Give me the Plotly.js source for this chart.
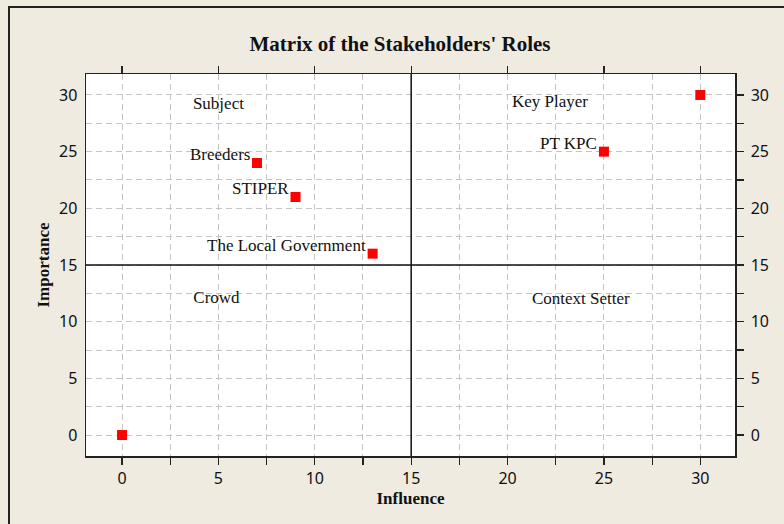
<!DOCTYPE html>
<html>
<head>
<meta charset="utf-8">
<script src="https://cdn.plot.ly/plotly-3.0.1.min.js"></script>
<style>
  html, body { margin: 0; padding: 0; background: #efebe1; }
  #wrap { position: relative; width: 784px; height: 524px; overflow: hidden; }
  #chart { position: absolute; left: 0; top: 0; width: 784px; height: 524px; }
  #frame { position: absolute; left: 8px; top: 6px; width: 800px; height: 540px;
           border-left: 2px solid #222; border-top: 2px solid #222; pointer-events: none; }
</style>
</head>
<body>
<div id="wrap"><div id="chart"></div><div id="frame"></div></div>
<script>
// Stakeholders (influence, importance)
const stakeholderNames = ["", "Breeders", "STIPER", "The Local Government", "PT KPC", ""];
const influence = [0, 7, 9, 13, 25, 30];
const importance = [0, 24, 21, 16, 25, 30];

// Quadrant labels
const quadrantNames = ["Subject", "Key Player", "Crowd", "Context Setter"];
const quadrantX = [5, 22.2, 4.9, 23.8];
const quadrantY = [29.1, 29.3, 12.0, 11.9];

// Quadrant dividers
const dividerX = 15;
const dividerY = 15;

const tickVals = [0, 5, 10, 15, 20, 25, 30];
const xRange = [-1.87, 31.8];
const yRange = [-1.85, 31.85];

const gridColor = "#c4c4c4";
const serif = "Liberation Serif, Times New Roman, serif";
const sans = "Noto Sans, DejaVu Sans, sans-serif";

const traces = [
  {
    type: "scatter", mode: "markers",
    x: influence, y: importance, text: stakeholderNames,
    marker: { symbol: "square", size: 10, color: "#ff0000" },
    hoverinfo: "x+y+text", cliponaxis: false
  },
  {
    type: "scatter", mode: "text",
    x: quadrantX, y: quadrantY, text: quadrantNames,
    textposition: "middle center",
    textfont: { family: serif, size: 17, color: "#111" },
    hoverinfo: "text"
  },
  { type: "scatter", mode: "markers", x: [null], y: [null], xaxis: "x2", yaxis: "y2", showlegend: false, hoverinfo: "skip" }
];

const pointLabels = stakeholderNames
  .map((name, i) => ({ name, x: influence[i], y: importance[i] }))
  .filter(p => p.name)
  .map(p => ({
    x: p.x, y: p.y, xref: "x", yref: "y", text: p.name, showarrow: false,
    xanchor: "right", yanchor: "middle", xshift: -5, yshift: 8,
    font: { family: serif, size: 17, color: "#111" }
  }));

const baseAxis = {
  range: null, tickvals: tickVals, ticktext: tickVals.map(String),
  showline: true, linecolor: "#222", linewidth: 1.5,
  zeroline: false,
  tickfont: { family: sans, size: 16, color: "#111" }
};

const layout = {
  width: 784, height: 524,
  paper_bgcolor: "#efebe1", plot_bgcolor: "#ffffff",
  margin: { l: 86, r: 49, t: 74, b: 68 },
  showlegend: false,
  title: {
    text: "<b>Matrix of the Stakeholders' Roles</b>",
    font: { family: serif, size: 21, color: "#111" },
    x: 400 / 784, xanchor: "center", xref: "container",
    y: 1 - 44 / 524, yanchor: "middle", yref: "container"
  },
  annotations: pointLabels,
  xaxis: Object.assign({}, baseAxis, {
    range: xRange, mirror: false,
    ticks: "outside", ticklen: 7, tickwidth: 1.2, tickcolor: "#222",
    showgrid: true, gridcolor: gridColor, gridwidth: 1, griddash: "6px,4px",
    minor: { dtick: 2.5, tick0: 0, ticks: "outside", ticklen: 7, tickwidth: 1.2, tickcolor: "#222",
             showgrid: true, gridcolor: gridColor, gridwidth: 1, griddash: "6px,4px" },
    title: { text: "<b>Influence</b>", font: { family: serif, size: 17, color: "#111" }, standoff: 4 }
  }),
  yaxis: Object.assign({}, baseAxis, {
    range: yRange, mirror: false,
    ticks: "", showgrid: true, gridcolor: gridColor, gridwidth: 1, griddash: "6px,4px",
    minor: { dtick: 2.5, tick0: 0, showgrid: true, gridcolor: gridColor, gridwidth: 1, griddash: "6px,4px" },
    ticklabelstandoff: 4,
    title: { text: "<b>Importance</b>", font: { family: serif, size: 17, color: "#111" }, standoff: 5 }
  }),
  xaxis2: Object.assign({}, baseAxis, {
    range: xRange, overlaying: "x", side: "top", anchor: "y2",
    ticks: "outside", ticklen: 7, tickwidth: 1.2, tickcolor: "#222",
    showticklabels: false, showgrid: false
  }),
  yaxis2: Object.assign({}, baseAxis, {
    range: yRange, overlaying: "y", side: "right", anchor: "x2",
    ticks: "outside", ticklen: 7, tickwidth: 1.2, tickcolor: "#222",
    minor: { dtick: 2.5, tick0: 0, ticks: "outside", ticklen: 7, tickwidth: 1.2, tickcolor: "#222", showgrid: false },
    showgrid: false, ticklabelstandoff: 4
  }),
  shapes: [
    { type: "line", xref: "x", yref: "paper", x0: dividerX, x1: dividerX, y0: 0, y1: 1,
      line: { color: "#111", width: 1.5 }, layer: "above" },
    { type: "line", xref: "paper", yref: "y", x0: 0, x1: 1, y0: dividerY, y1: dividerY,
      line: { color: "#111", width: 1.5 }, layer: "above" }
  ]
};

Plotly.newPlot("chart", traces, layout, { displayModeBar: false, staticPlot: true });
</script>
</body>
</html>
